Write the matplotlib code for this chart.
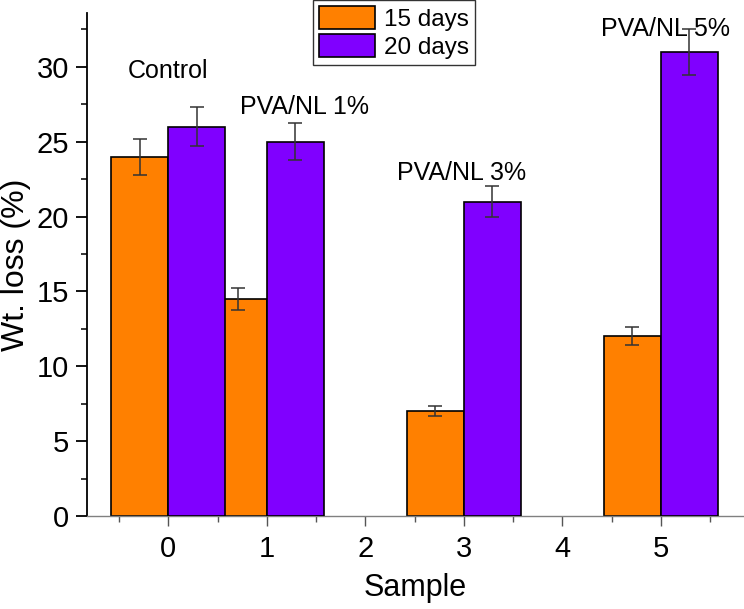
import matplotlib
matplotlib.use("Agg")
import matplotlib.pyplot as plt
from matplotlib.ticker import MultipleLocator

plt.rcParams['font.family'] = ['Liberation Sans', 'DejaVu Sans']

# data
samples = [0, 1, 3, 5]
loss_15 = [24.0, 14.5, 7.0, 12.0]
err_15 = [1.2, 0.72, 0.35, 0.6]
loss_20 = [26.0, 25.0, 21.0, 31.0]
err_20 = [1.3, 1.25, 1.06, 1.56]
series_labels = ['15 days', '20 days']
annot_text = ['Control', 'PVA/NL 1%', 'PVA/NL 3%', 'PVA/NL 5%']
annot_x = [0.0, 1.38, 2.98, 5.05]
annot_y = [29.7, 27.3, 22.9, 32.5]

orange = '#FF8000'
purple = '#8000FF'
w = 0.58

fig = plt.figure(figsize=(7.44, 6.09), dpi=100)
ax = fig.add_axes([0.117, 0.1527, 0.883, 0.826])

ax.bar(samples, loss_15, width=-w, align='edge', color=orange,
       edgecolor='black', linewidth=1.2, label=series_labels[0], zorder=2)
ax.bar(samples, loss_20, width=w, align='edge', color=purple,
       edgecolor='black', linewidth=1.2, label=series_labels[1], zorder=3)

ekw = dict(fmt='none', ecolor='#333333', elinewidth=1.1, capsize=5, capthick=1.1)
ax.errorbar([s - w / 2 for s in samples], loss_15, yerr=err_15, zorder=4, **ekw)
ax.errorbar([s + w / 2 for s in samples], loss_20, yerr=err_20, zorder=4, **ekw)

for t, x, y in zip(annot_text, annot_x, annot_y):
    ax.text(x, y, t, ha='center', va='center', fontsize=18, zorder=5)

ax.set_xlim(-0.825, 5.845)
ax.set_ylim(0, 33.6)
ax.xaxis.set_major_locator(MultipleLocator(1))
ax.xaxis.set_minor_locator(MultipleLocator(0.5))
ax.yaxis.set_major_locator(MultipleLocator(5))
ax.yaxis.set_minor_locator(MultipleLocator(2.5))

for s in ['top', 'right']:
    ax.spines[s].set_visible(False)
ax.spines['left'].set_linewidth(1.3)
ax.spines['bottom'].set_color('#808080')
ax.spines['bottom'].set_linewidth(1.0)

ax.tick_params(axis='y', which='major', direction='out', length=8, width=1.3,
               labelsize=21, pad=5)
ax.tick_params(axis='y', which='minor', direction='out', length=4, width=1.1)
ax.tick_params(axis='x', which='major', direction='out', length=7, width=1.0,
               color='#555555', labelsize=21, pad=7)
ax.tick_params(axis='x', which='minor', direction='out', length=4, width=1.0, color='#555555')

ax.set_xlabel('Sample', fontsize=22, labelpad=7)
ax.set_ylabel('Wt. loss (%)', fontsize=23, labelpad=4)

leg = ax.legend(loc='upper left', bbox_to_anchor=(0.344, 1.026), fontsize=17.5,
                frameon=True, fancybox=False, handlelength=2.3, handleheight=1.05,
                borderpad=0.25, labelspacing=0.15, handletextpad=0.35, borderaxespad=0)
leg.get_frame().set_edgecolor('black')
leg.get_frame().set_linewidth(1.0)
leg.set_zorder(6)

fig.savefig('out.png', dpi=100)
